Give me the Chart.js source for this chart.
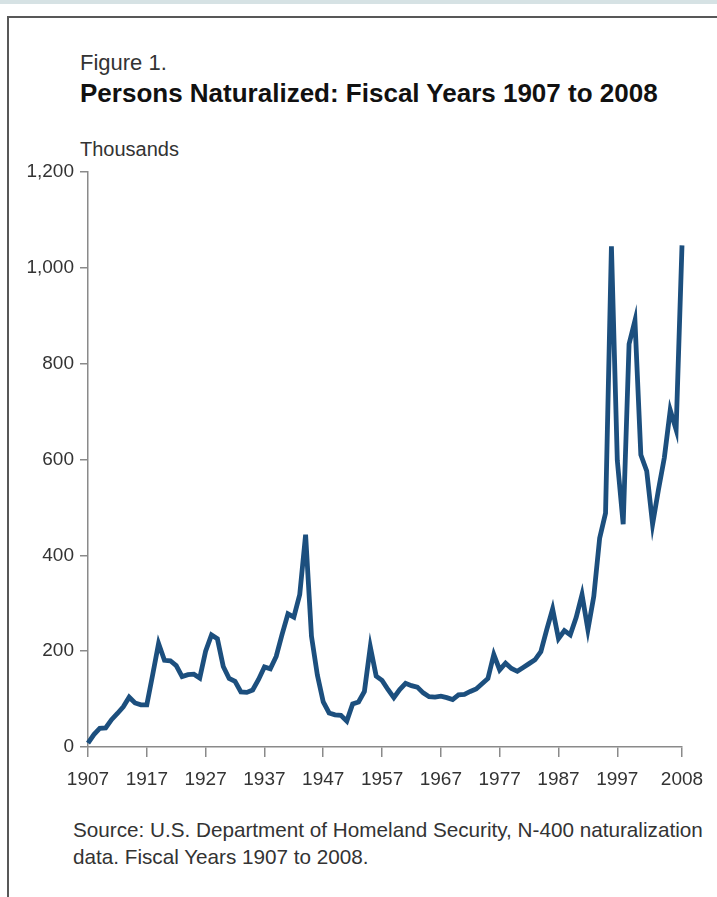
<!DOCTYPE html>
<html>
<head>
<meta charset="utf-8">
<script src="https://cdn.jsdelivr.net/npm/chart.js@4.4.1/dist/chart.umd.min.js"></script>
<style>
  html, body { margin: 0; padding: 0; background: #fff; overflow: hidden; }
  body { width: 717px; height: 897px; position: relative; font-family: "Liberation Sans", Arial, sans-serif; color: #222; }
  .band { position: absolute; left: 0; top: 0; width: 717px; height: 4px; background: #d6e2e4; }
  .frame { position: absolute; left: 7px; top: 16px; width: 800px; height: 1000px; border: 2px solid #585858; }
  .fig { position: absolute; left: 80px; top: 50px; font-size: 22px; color: #333; }
  .title { position: absolute; left: 80px; top: 78px; font-size: 26px; font-weight: bold; color: #111; white-space: nowrap; }
  .units { position: absolute; left: 80px; top: 138px; font-size: 20px; color: #333; }
  .source { position: absolute; left: 73px; top: 816px; font-size: 20.7px; line-height: 27px; color: #333; white-space: nowrap; }
  .plot { position: absolute; left: 0; top: 150px; width: 717px; height: 650px; }
</style>
</head>
<body>
<div class="band"></div>
<div class="frame"></div>
<div class="fig">Figure 1.</div>
<div class="title">Persons Naturalized: Fiscal Years 1907 to 2008</div>
<div class="units">Thousands</div>
<div class="plot"><canvas id="naturalized-chart"></canvas></div>
<div class="source">Source: U.S. Department of Homeland Security, N-400 naturalization<br>data. Fiscal Years 1907 to 2008.</div>

<script>
// fiscal years 1907..2008
const years = [
  1907, 1908, 1909, 1910, 1911, 1912, 1913, 1914, 1915, 1916,
  1917, 1918, 1919, 1920, 1921, 1922, 1923, 1924, 1925, 1926,
  1927, 1928, 1929, 1930, 1931, 1932, 1933, 1934, 1935, 1936,
  1937, 1938, 1939, 1940, 1941, 1942, 1943, 1944, 1945, 1946,
  1947, 1948, 1949, 1950, 1951, 1952, 1953, 1954, 1955, 1956,
  1957, 1958, 1959, 1960, 1961, 1962, 1963, 1964, 1965, 1966,
  1967, 1968, 1969, 1970, 1971, 1972, 1973, 1974, 1975, 1976,
  1977, 1978, 1979, 1980, 1981, 1982, 1983, 1984, 1985, 1986,
  1987, 1988, 1989, 1990, 1991, 1992, 1993, 1994, 1995, 1996,
  1997, 1998, 1999, 2000, 2001, 2002, 2003, 2004, 2005, 2006,
  2007, 2008
];

// persons naturalized, thousands
const naturalized = [
  8, 26, 39, 40, 57, 70, 84, 104, 92, 88,
  88, 151, 216, 181, 180, 170, 147, 151, 152, 144,
  200, 234, 226, 168, 143, 137, 115, 114, 119, 141,
  167, 163, 189, 235, 278, 271, 318, 443, 231, 150,
  94, 71, 67, 66, 54, 90, 94, 116, 209, 148,
  139, 120, 103, 120, 133, 128, 125, 113, 105, 104,
  106, 103, 99, 109, 110, 116, 121, 132, 143, 193,
  161, 175, 164, 158, 166, 174, 182, 199, 245, 288,
  226, 243, 234, 270, 318, 245, 314, 436, 488, 1045,
  598, 465, 841, 890, 610, 576, 465, 537, 604, 703,
  662, 1047
];

const xTickYears = [1907, 1917, 1927, 1937, 1947, 1957, 1967, 1977, 1987, 1997, 2008];
const yTicks = [0, 200, 400, 600, 800, 1000, 1200];

(function () {
    const canvas = document.getElementById('naturalized-chart');
    const axisColor = '#8a8a8a';
    const tickFont = { family: '"Liberation Sans", Arial, sans-serif', size: 19 };

    new Chart(canvas, {
        type: 'line',
        data: {
            datasets: [{
                label: 'Persons naturalized',
                data: years.map((y, i) => ({ x: y, y: naturalized[i] })),
                borderColor: '#1c4f7e',
                borderWidth: 4.8,
                pointRadius: 0,
                tension: 0,
                clip: false
            }]
        },
        options: {
            responsive: true,
            maintainAspectRatio: false,
            animation: false,
            layout: { padding: { left: 8, top: 22, right: 35, bottom: 8 } },
            scales: {
                x: {
                    type: 'linear',
                    min: 1907,
                    max: 2008,
                    afterBuildTicks: scale => { scale.ticks = xTickYears.map(v => ({ value: v })); },
                    afterFit: scale => { scale.height = 45; },
                    ticks: {
                        color: '#333',
                        font: tickFont,
                        padding: 11,
                        maxRotation: 0,
                        autoSkip: false,
                        callback: v => String(v)
                    },
                    grid: { drawOnChartArea: false, tickLength: 10, color: axisColor, lineWidth: 1.5 },
                    border: { color: axisColor, width: 1.5 }
                },
                y: {
                    min: 0,
                    max: 1200,
                    afterBuildTicks: scale => { scale.ticks = yTicks.map(v => ({ value: v })); },
                    afterFit: scale => { scale.width = 80; },
                    ticks: {
                        color: '#333',
                        font: tickFont,
                        padding: 6,
                        callback: v => v.toLocaleString('en-US')
                    },
                    grid: { drawOnChartArea: false, tickLength: 8, color: axisColor, lineWidth: 1.5 },
                    border: { color: axisColor, width: 1.5 }
                }
            },
            plugins: {
                legend: { display: false },
                tooltip: { enabled: false }
            }
        }
    });
})();
</script>
</body>
</html>
